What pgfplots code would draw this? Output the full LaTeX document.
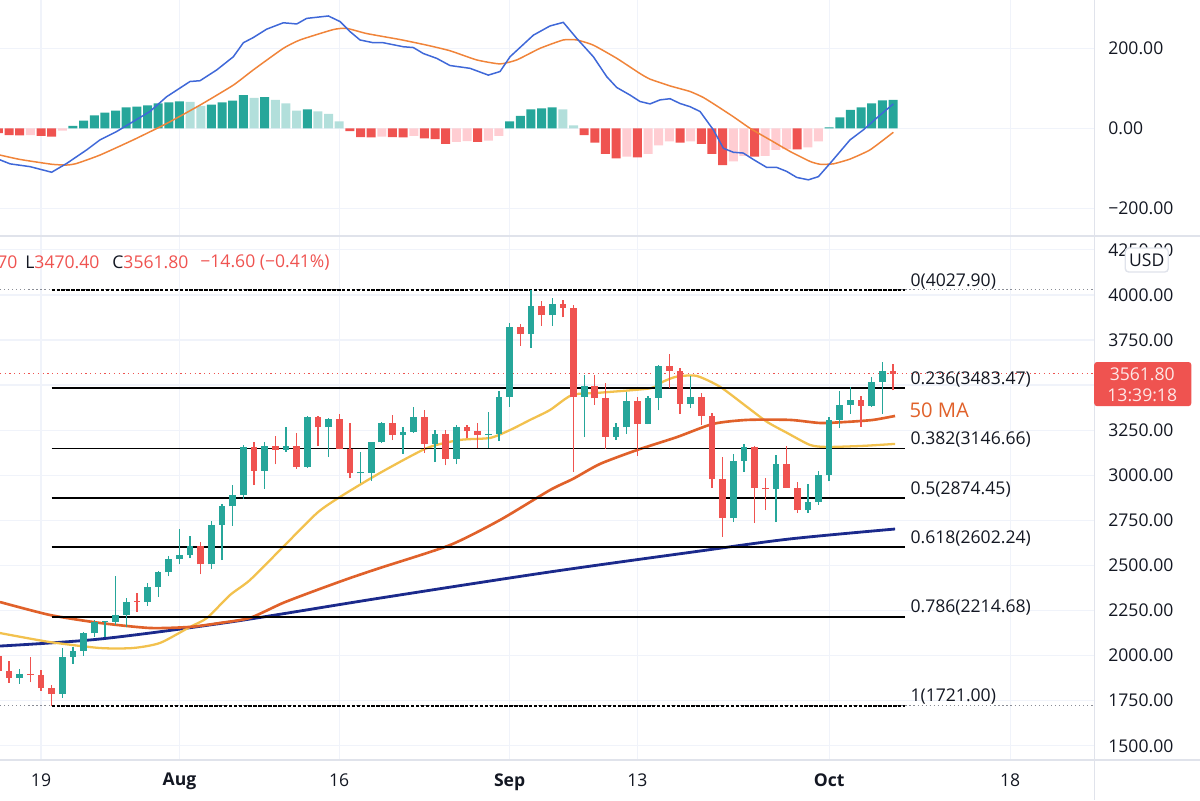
\documentclass[border=0pt]{standalone}
\usepackage{pgfplots}
\pgfplotsset{compat=1.18}
\usepackage{pgfplotstable}
\usepackage{fontspec}
\setmainfont{Open Sans}

\definecolor{cgreen}{HTML}{26A69A}
\definecolor{cred}{HTML}{EF5350}
\definecolor{clgreen}{HTML}{B2DFDB}
\definecolor{clred}{HTML}{FFCDD2}
\definecolor{gridc}{HTML}{F0F3FA}
\definecolor{sepc}{HTML}{E0E3EB}
\definecolor{tvtext}{HTML}{131722}
\definecolor{ma20}{HTML}{F2C14E}
\definecolor{ma50}{HTML}{E0612A}
\definecolor{ma200}{HTML}{1B2A8C}
\definecolor{macdc}{HTML}{3F68D8}
\definecolor{sigc}{HTML}{F0843A}
\definecolor{dotc}{HTML}{8A8D96}
\definecolor{boxtext}{HTML}{FDE8E7}

% up (green) candles: day index (0 = 19 Jul), open, high, low, close
\pgfplotstableread{
d o h l c
-2 1875 1925 1845 1896
2 1787 2044 1765 1993
3 1993 2050 1955 2027
4 2027 2131 2000 2123
5 2123 2200 2105 2185
6 2185 2192 2105 2188
7 2188 2440 2172 2225
8 2225 2320 2158 2299
10 2298 2400 2276 2382
11 2382 2470 2325 2462
12 2462 2550 2440 2536
13 2536 2700 2506 2557
14 2557 2665 2541 2608
16 2506 2745 2480 2725
17 2725 2840 2530 2827
18 2827 2945 2720 2890
19 2890 3170 2870 3158
21 3025 3186 2925 3163
23 3141 3270 3130 3164
25 3047 3330 3040 3322
27 3266 3320 3100 3311
30 3011 3130 2955 3015
31 3015 3185 2970 3183
32 3183 3295 3180 3289
34 3226 3270 3120 3241
35 3241 3378 3235 3322
37 3175 3250 3073 3228
39 3093 3280 3060 3268
42 3222 3350 3150 3230
43 3230 3470 3190 3433
44 3433 3845 3380 3825
46 3786 4027.9 3706 3939
48 3887 3985 3830 3950
51 3432 3555 3212 3494
54 3213 3290 3196 3265
55 3265 3462 3228 3410
57 3285 3440 3282 3429
58 3429 3610 3360 3608
61 3398 3550 3373 3435
65 2763 3120 2740 3077
66 3077 3175 3020 3155
69 2923 3112 2740 3063
72 2806 2950 2790 2850
73 2850 3025 2837 3001
74 3001 3325 2966 3307
75 3307 3470 3262 3391
76 3391 3490 3340 3419
78 3386 3546 3380 3516
79 3516 3630 3340 3576.4
}\upc

% down (red) candles
\pgfplotstableread{
d o h l c
-4 1995 2030 1880 1913
-3 1913 1968 1850 1875
-1 1896 1990 1852 1892
0 1892 1920 1805 1820
1 1820 1837 1721 1787
9 2305 2347 2242 2298
15 2608 2630 2450 2506
20 3158 3185 2945 3025
22 3163 3220 3060 3141
24 3164 3233 3035 3047
26 3322 3330 3165 3266
28 3311 3338 3143 3148
29 3148 3290 2983 3011
33 3289 3335 3195 3226
36 3322 3360 3125 3175
38 3228 3250 3055 3093
40 3268 3280 3205 3244
41 3244 3289 3150 3222
45 3825 3840 3717 3786
47 3939 3967 3828 3887
49 3950 3970 3876 3927
50 3927 3945 3018 3432
52 3494 3555 3390 3427
53 3427 3512 3145 3213
56 3410 3435 3107 3285
59 3608 3672 3484 3577
60 3577 3595 3340 3398
62 3435 3455 3280 3331
63 3331 3345 2930 2977
64 2977 3100 2658 2763
67 3155 3160 2735 2929
68 2929 2985 2807 2923
70 3063 3162 2930 2932
71 2932 2963 2790 2806
77 3419 3440 3268 3386
80 3576.4 3615.7 3470.4 3561.8
}\downc

\pgfplotsset{
  tvbase/.style={
    scale only axis, width=21.88cm,
    xmin=-3.85, xmax=98.87,
    axis line style={draw=none},
    major tick length=0pt,
    xtick={0,13,28,44,56,74,91},
    yticklabel pos=right,
    grid=major,
    major grid style={color=gridc, line width=0.7pt},
    tick label style={font=\fontsize{10}{12}\selectfont, text=tvtext},
    yticklabel style={anchor=west, inner sep=0pt, xshift=0.28cm},
  },
}

\begin{document}
\begin{tikzpicture}
\path[use as bounding box] (0,0) rectangle (24cm,16cm);

% ---------------- MACD pane ----------------
\begin{axis}[tvbase, name=macd, at={(0,11.3cm)}, anchor=south west,
  height=4.7cm, ymin=-267, ymax=321,
  xticklabels={},
  ytick={-200,0,200}, yticklabels={−200.00,0.00,200.00}]
\addplot[ybar, bar width=0.18cm, bar shift=0pt, fill=cgreen, draw=none] coordinates {
(3,6) (4,19) (5,32) (6,39) (7,44) (8,52) (9,54) (10,57) (11,62) (12,65) (13,67)
(16,59) (17,65) (18,69) (19,83) (21,78) (25,47)
(44,17) (45,31) (46,47) (47,50) (48,52)
(74,2) (75,27) (76,46) (77,52) (78,62) (79,70) (80,71)};
\addplot[ybar, bar width=0.18cm, bar shift=0pt, fill=clgreen, draw=none] coordinates {
(14,66) (15,56) (20,76) (22,71) (23,62) (24,44) (26,42) (27,36) (28,17)
(49,47) (50,7)};
\addplot[ybar, bar width=0.18cm, bar shift=0pt, fill=cred, draw=none] coordinates {
(-4,-12) (-3,-17) (-2,-18) (0,-19) (1,-21)
(29,-7) (30,-22) (31,-23) (33,-22) (34,-23) (36,-25) (37,-27) (38,-39) (41,-34)
(51,-17) (52,-36) (53,-64) (54,-75) (56,-73) (60,-36) (62,-39) (63,-64) (64,-92)
(67,-71) (71,-53)};
\addplot[ybar, bar width=0.18cm, bar shift=0pt, fill=clred, draw=none] coordinates {
(-1,-17) (2,-6) (32,-21) (35,-19) (39,-34) (40,-32) (42,-31) (43,-19)
(55,-71) (57,-64) (58,-43) (59,-33) (61,-33) (65,-83) (66,-69) (68,-69)
(69,-54) (70,-52) (72,-48) (73,-33)};
% signal line
\addplot[sigc, line width=0.85pt, smooth, tension=0.3] coordinates {
(-3.85,-67) (-1.97,-78) (1.0,-90) (2.41,-92) (3.35,-88) (5.54,-67) (8.67,-29)
(11.8,12) (14.93,58) (18.06,108) (19.93,146) (22.75,200) (24.32,221) (27.45,247)
(28.7,250) (30.58,237) (33.71,222) (36.22,208) (38.4,194) (40.91,171) (43.1,161)
(44.67,171) (46.85,200) (49.04,221) (50.3,221) (51.86,208) (54.06,175) (56.24,137)
(57.18,123) (59.06,106) (60.94,92) (62.19,77) (63.45,56) (65.0,29) (66.57,0)
(68.45,-29) (70.33,-58) (72.21,-83) (73.15,-90) (74.39,-89) (75.96,-77)
(77.84,-54) (80.03,-10)};
% MACD line
\addplot[macdc, line width=0.85pt] coordinates {
(-3.85,-79) (-2.91,-89) (-1.03,-96) (1.0,-110) (2.41,-88) (4.29,-54) (5.54,-29)
(7.11,-8) (8.67,17) (10.23,42) (11.8,79) (13.99,117) (14.93,119) (16.5,146)
(18.06,179) (19.0,214) (19.93,227) (21.19,248) (22.75,264) (24.01,261) (24.95,275)
(26.98,281) (28.08,267) (29.01,242) (29.95,221) (31.2,214) (32.14,214) (34.02,204)
(34.96,202) (35.9,187) (37.15,175) (38.4,157) (40.28,150) (42.0,133) (43.1,142)
(44.04,179) (46.23,233) (47.79,256) (49.04,265) (50.3,225) (51.86,179) (53.12,129)
(54.06,102) (55.31,83) (56.24,67) (57.18,61) (58.12,71) (59.06,74) (60.0,62)
(60.94,54) (61.88,42) (63.13,-4) (64.07,-50) (65.0,-60) (65.94,-62) (66.88,-78)
(68.14,-98) (69.08,-98) (70.02,-108) (70.96,-123) (72.05,-129) (72.99,-121)
(74.08,-88) (75.96,-29) (77.21,-4) (78.78,33) (80.03,61)};
\end{axis}

% ---------------- Price pane ----------------
\begin{axis}[tvbase, name=price, at={(0,0.8cm)}, anchor=south west,
  height=10.48cm, ymin=1421, ymax=4327,
  xticklabels={19,\textbf{Aug},16,\textbf{Sep},13,\textbf{Oct},18},
  xticklabel style={anchor=north, inner sep=0pt, yshift=-0.26cm},
  ytick={1500,1750,2000,2250,2500,2750,3000,3250,3500,3750,4000,4250},
  yticklabels={1500.00,1750.00,2000.00,2250.00,2500.00,2750.00,3000.00,3250.00,{},3750.00,4000.00,4250.00}]
% dotted extensions of the high / low and current price
\addplot[dotc, line width=0.6pt, dash pattern=on 0.7pt off 1.6pt] coordinates {(-3.85,4027.9) (98.87,4027.9)};
\addplot[dotc, line width=0.6pt, dash pattern=on 0.7pt off 1.6pt] coordinates {(-3.85,1721) (98.87,1721)};
\addplot[cred, line width=0.6pt, dash pattern=on 0.7pt off 2pt] coordinates {(-3.85,3561.8) (98.87,3561.8)};
% moving averages
\addplot[ma200, line width=1.6pt, smooth] coordinates {
(-3.85,2053) (5.54,2092) (17.75,2186) (31.83,2319) (47.79,2464) (61.88,2580) (70.33,2647) (80.19,2702)};
\addplot[ma20, line width=1.3pt, smooth, tension=0.4] coordinates {
(-3.85,2125) (0.85,2075) (5.54,2042) (8.64,2042) (11.17,2070) (13.99,2159) (15.59,2209)
(17.75,2336) (19.62,2419) (22.72,2602) (25.92,2791) (28.08,2880) (31.83,3013)
(36.24,3151) (39.34,3196) (42.16,3207) (44.04,3251) (45.92,3307) (47.79,3362)
(49.86,3445) (52.49,3458) (57.18,3482) (58.4,3519) (59.68,3547) (61.56,3551)
(63.75,3491) (66.29,3379) (68.17,3296) (70.05,3235) (72.21,3168) (73.8,3157)
(77.18,3163) (80.19,3174)};
\addplot[ma50, line width=1.5pt, smooth, tension=0.4] coordinates {
(-3.85,2297) (0.85,2225) (5.54,2181) (10.23,2153) (13.99,2159) (16.81,2181)
(19.62,2209) (22.72,2292) (25.92,2364) (29.01,2430) (31.83,2486) (38.4,2613)
(43.1,2752) (47.79,2918) (49.95,2980) (52.49,3063) (55.96,3140) (59.72,3212)
(63.1,3285) (66.29,3307) (70.33,3307) (73.15,3290) (75.68,3296) (78.12,3307) (80.19,3329)};
% Fibonacci retracement levels
\addplot[black, line width=0.75pt, dash pattern=on 2pt off 0.8pt] coordinates {(1,4027.9) (81.1,4027.9)};
\addplot[black, line width=0.75pt] coordinates {(1,3483.47) (81.1,3483.47)};
\addplot[black, line width=0.75pt] coordinates {(1,3146.66) (81.1,3146.66)};
\addplot[black, line width=0.75pt] coordinates {(1,2874.45) (81.1,2874.45)};
\addplot[black, line width=0.75pt] coordinates {(1,2602.24) (81.1,2602.24)};
\addplot[black, line width=0.75pt] coordinates {(1,2214.68) (81.1,2214.68)};
\addplot[black, line width=0.75pt, dash pattern=on 2pt off 0.8pt] coordinates {(1,1721) (81.1,1721)};
% candle wicks
\addplot[draw=none, mark=none, error bars/.cd, y dir=plus, y explicit, error mark=none,
  error bar style={draw=cgreen, solid, line width=0.75pt}]
  table[x=d, y=l, y error plus expr=\thisrow{h}-\thisrow{l}] {\upc};
\addplot[draw=none, mark=none, error bars/.cd, y dir=plus, y explicit, error mark=none,
  error bar style={draw=cred, solid, line width=0.75pt}]
  table[x=d, y=l, y error plus expr=\thisrow{h}-\thisrow{l}] {\downc};
% candle bodies
\addplot[draw=none, mark=none, error bars/.cd, y dir=plus, y explicit, error mark=none,
  error bar style={draw=cgreen, solid, line width=3.8pt}]
  table[x=d, y=o, y error plus expr={max(\thisrow{c}-\thisrow{o},6)}] {\upc};
\addplot[draw=none, mark=none, error bars/.cd, y dir=plus, y explicit, error mark=none,
  error bar style={draw=cred, solid, line width=3.8pt}]
  table[x=d, y=c, y error plus expr={max(\thisrow{o}-\thisrow{c},6)}] {\downc};
\end{axis}

% ---------------- frame lines and annotations (pixel coordinates) ----------------
\begin{scope}[x=0.02cm, y=-0.02cm, shift={(0,16cm)}]
\draw[sepc, line width=1.1pt] (0,236) -- (1200,236);
\draw[sepc, line width=1.1pt] (0,760) -- (1200,760);
\draw[sepc, line width=0.8pt] (1094,0) -- (1094,800);
\begin{scope}[font=\fontsize{10}{12}\selectfont]
\node[anchor=west, inner sep=0pt, text=cred] at (-3,262) {70};
\node[anchor=west, inner sep=0pt] at (25,262) {\textcolor{tvtext}{L}\textcolor{cred}{3470.40}};
\node[anchor=west, inner sep=0pt] at (112,262) {\textcolor{tvtext}{C}\textcolor{cred}{3561.80}};
\node[anchor=west, inner sep=0pt, text=cred] at (200,262) {−14.60 (−0.41\%)};
\node[anchor=west, inner sep=0pt, text=tvtext] at (910,281) {0(4027.90)};
\node[anchor=west, inner sep=0pt, text=tvtext] at (910,379) {0.236(3483.47)};
\node[anchor=west, inner sep=0pt, text=tvtext] at (910,439) {0.382(3146.66)};
\node[anchor=west, inner sep=0pt, text=tvtext] at (910,489) {0.5(2874.45)};
\node[anchor=west, inner sep=0pt, text=tvtext] at (910,538) {0.618(2602.24)};
\node[anchor=west, inner sep=0pt, text=tvtext] at (910,607) {0.786(2214.68)};
\node[anchor=west, inner sep=0pt, text=tvtext] at (910,696) {1(1721.00)};
% USD box
\filldraw[fill=white, draw=sepc, line width=0.8pt, rounded corners=2pt] (1125,248) rectangle (1168,272);
\node[text=tvtext, inner sep=0pt] at (1146.5,260) {USD};
% last price box
\fill[cred, rounded corners=1.5pt] (1094,362) rectangle (1191,406);
\node[text=boxtext, inner sep=0pt] at (1142,374) {3561.80};
\node[text=boxtext, inner sep=0pt] at (1142,395) {13:39:18};
\end{scope}
\node[anchor=west, inner sep=0pt, text=ma50, font=\fontsize{11.5}{13}\selectfont] at (909,410) {50 MA};
\end{scope}
\end{tikzpicture}
\end{document}
